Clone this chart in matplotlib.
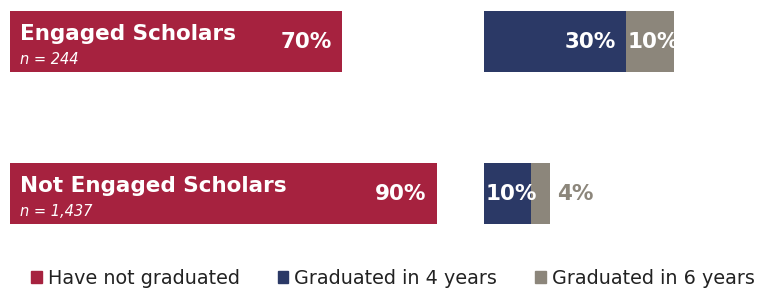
import numpy as np
import matplotlib.pyplot as plt
from matplotlib.patches import Patch

# data
groups = ['Engaged Scholars', 'Not Engaged Scholars']
counts = ['n = 244', 'n = 1,437']
not_grad = [70, 90]
grad_4 = [30, 10]
grad_6 = [10, 4]
series_names = ['Have not graduated', 'Graduated in 4 years', 'Graduated in 6 years']

RED = '#A6223F'
NAVY = '#2B3966'
GREY = '#8C867B'
OFFSET = 100  # right-hand group starts here (in % units)

fig = plt.figure(figsize=(7.77, 2.9), dpi=100)
ax = fig.add_axes([0, 0, 1, 1])
ax.set_xlim(-2.11, 161.8)
ax.set_ylim(290, 0)
ax.axis('off')

ys = [41.5, 193.5]
h = 61

for i, y in enumerate(ys):
    ax.barh(y, not_grad[i], height=h, left=0, color=RED)
    ax.barh(y, grad_4[i], height=h, left=OFFSET, color=NAVY)
    ax.barh(y, grad_6[i], height=h, left=OFFSET + grad_4[i], color=GREY)

    ax.text(2.1, y - 8, groups[i], color='white', fontsize=15.5, fontweight='bold',
            ha='left', va='center')
    ax.text(2.1, y + 17.5, counts[i], color='white', fontsize=10.5, style='italic',
            ha='left', va='center')
    ax.text(not_grad[i] - 2.2, y + 1, f'{not_grad[i]}%', color='white', fontsize=15.5,
            fontweight='bold', ha='right', va='center')

# engaged: labels inside
ax.text(OFFSET + grad_4[0] - 2.2, ys[0] + 1, f'{grad_4[0]}%', color='white', fontsize=15.5,
        fontweight='bold', ha='right', va='center')
ax.text(OFFSET + grad_4[0] + 0.2, ys[0] + 1, f'{grad_6[0]}%', color='white', fontsize=15.5,
        fontweight='bold', ha='left', va='center')
# not engaged: small bars
ax.text(OFFSET + 0.3, ys[1] + 1, f'{grad_4[1]}%', color='white', fontsize=15.5,
        fontweight='bold', ha='left', va='center')
ax.text(OFFSET + grad_4[1] + grad_6[1] + 1.3, ys[1] + 1, f'{grad_6[1]}%', color=GREY,
        fontsize=15.5, fontweight='bold', ha='left', va='center')

handles = [Patch(color=c) for c in [RED, NAVY, GREY]]
fig.legend(handles, series_names, loc='center left', bbox_to_anchor=(0.018, 0.04),
           ncol=3, frameon=False, fontsize=13.8, handlelength=0.55, handleheight=0.6,
           handletextpad=0.3, columnspacing=2.0, labelcolor='#222222')

fig.savefig('out.png', dpi=100)
